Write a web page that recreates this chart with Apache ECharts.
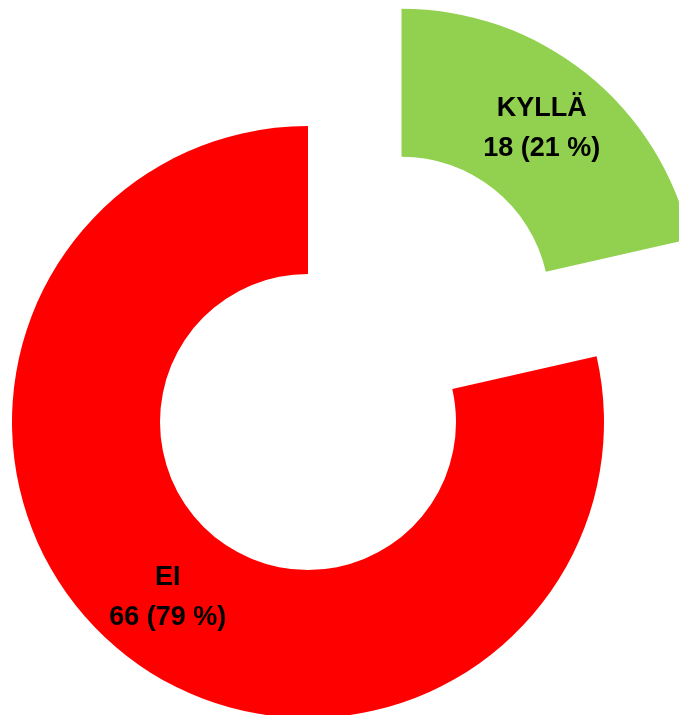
<!DOCTYPE html>
<html>
<head>
<meta charset="utf-8">
<script src="https://cdn.jsdelivr.net/npm/echarts@6/dist/echarts.min.js"></script>
<style>
  html, body { margin: 0; padding: 0; background: #fff; }
  #chart { width: 679px; height: 715px; }
</style>
</head>
<body>
<div id="chart"></div>
<script>
// vastaukset
const categories = ['KYLLÄ', 'EI'];
const counts = [18, 66];
const colors = ['#92D050', '#FF0000'];

const total = counts.reduce((a, b) => a + b, 0);

const chart = echarts.init(document.getElementById('chart'));

chart.setOption({
  animation: false,
  series: [
    {
      type: 'pie',
      center: [308, 422],
      radius: [148, 296],
      startAngle: 90,
      clockwise: true,
      selectedMode: 'single',
      selectedOffset: 150,
      avoidLabelOverlap: false,
      emphasis: { disabled: true },
      label: {
        show: true,
        position: 'inside',
        color: '#000',
        fontFamily: 'Liberation Sans',
        fontWeight: 'bold',
        fontSize: 27,
        lineHeight: 40,
        formatter: p => p.name + '\n' + p.value + ' (' + Math.round(p.value / total * 100) + ' %)'
      },
      labelLine: { show: false },
      data: categories.map((name, i) => ({
        name: name,
        value: counts[i],
        selected: i === 0,
        itemStyle: { color: colors[i] }
      }))
    }
  ]
});
</script>
</body>
</html>
